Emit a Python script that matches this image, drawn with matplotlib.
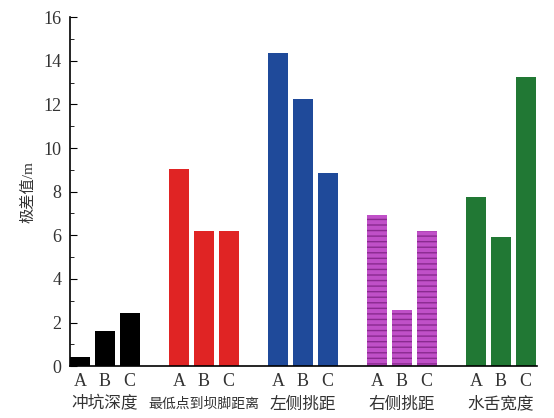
import matplotlib.pyplot as plt
import matplotlib.transforms as mtransforms
import numpy as np
from matplotlib.ticker import MultipleLocator

plt.rcParams['font.family'] = ['Liberation Serif', 'Noto Sans CJK SC']
plt.rcParams['hatch.linewidth'] = 1.0

# 各指标的极差值
groups = ["冲坑深度", "最低点到坝脚距离", "左侧挑距", "右侧挑距", "水舌宽度"]
factors = ["A", "B", "C"]
vals_pit = [0.41, 1.60, 2.42]
vals_low = [9.04, 6.18, 6.18]
vals_left = [14.35, 12.25, 8.85]
vals_right = [6.92, 2.57, 6.18]
vals_width = [7.75, 5.92, 13.25]
all_vals = [vals_pit, vals_low, vals_left, vals_right, vals_width]

colors = ["#000000", "#e02424", "#1f4a9a", "#c050c8", "#217834"]
hatches = [None, None, None, "---", None]
hatch_edges = [None, None, None, "#8a2a90", None]

fig = plt.figure(figsize=(5.54, 4.18), dpi=100)
ax = fig.add_axes([0.126, 0.124, 0.843, 0.835])

xpos = []
for i, vals in enumerate(all_vals):
    x = i * 4 + np.arange(3)
    xpos.extend(x)
    if hatches[i]:
        ax.bar(x, vals, width=0.8, color=colors[i], hatch=hatches[i],
               edgecolor=hatch_edges[i], linewidth=0)
    else:
        ax.bar(x, vals, width=0.8, color=colors[i], linewidth=0)

ax.set_xlim(-0.42, 18.45)
ax.set_ylim(0, 16)
ax.set_xticks(xpos)
ax.set_xticklabels(factors * 5, fontsize=13, color='#333333')
ax.tick_params(axis='x', length=0, pad=5)

ax.yaxis.set_major_locator(MultipleLocator(2))
ax.yaxis.set_minor_locator(MultipleLocator(1))
ax.tick_params(axis='y', which='major', direction='in', length=5,
               labelsize=13, labelcolor='#333333', pad=6)
ax.tick_params(axis='y', which='minor', direction='in', length=3)

for side in ['top', 'right']:
    ax.spines[side].set_visible(False)
ax.spines['left'].set_linewidth(1.2)
ax.spines['bottom'].set_linewidth(1.2)

ax.set_ylabel("极差值/m", fontsize=11, labelpad=6, color='#333333')

# 分组名称
trans = mtransforms.blended_transform_factory(ax.transData, ax.transAxes)
for i, name in enumerate(groups):
    fs = 12 if len(name) <= 4 else 10
    ax.text(i * 4 + 1, -0.11, name, transform=trans, ha='center', va='center',
            fontsize=fs, color='#333333')

fig.savefig("out.png", dpi=100)
